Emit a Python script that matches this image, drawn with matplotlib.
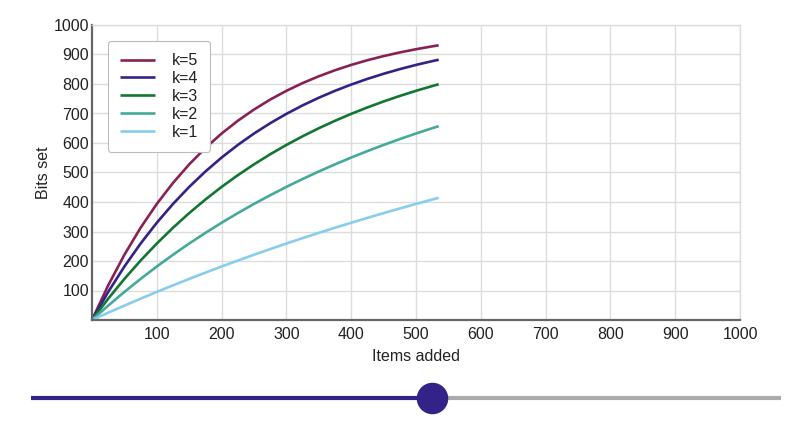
import matplotlib
matplotlib.use("Agg")
import matplotlib.pyplot as plt

plt.rcParams["font.family"] = ["Liberation Sans", "DejaVu Sans"]

# items added (0..535, step 25, then the slider position)
items = [0, 25, 50, 75, 100, 125, 150, 175, 200, 225, 250, 275, 300, 325,
         350, 375, 400, 425, 450, 475, 500, 525, 535]

# bits set in a 1000-bit filter, per number of hash functions k
bits_k1 = [0, 24.7, 48.8, 72.3, 95.2, 117.5, 139.3, 160.5, 181.3, 201.5, 221.2,
           240.4, 259.2, 277.5, 295.3, 312.7, 329.7, 346.2, 362.4, 378.1, 393.5,
           408.4, 414.3]
bits_k2 = [0, 48.8, 95.2, 139.3, 181.3, 221.2, 259.2, 295.3, 329.7, 362.4, 393.5,
           423.0, 451.2, 478.0, 503.4, 527.6, 550.7, 572.6, 593.4, 613.3, 632.1,
           650.1, 657.0]
bits_k3 = [0, 72.3, 139.3, 201.5, 259.2, 312.7, 362.4, 408.4, 451.2, 490.8, 527.6,
           561.8, 593.4, 622.8, 650.1, 675.3, 698.8, 720.6, 740.8, 759.5, 776.9,
           793.0, 799.1]
bits_k4 = [0, 95.2, 181.3, 259.2, 329.7, 393.5, 451.2, 503.4, 550.7, 593.4, 632.1,
           667.1, 698.8, 727.5, 753.4, 776.9, 798.1, 817.3, 834.7, 850.4, 864.7,
           877.5, 882.3]
bits_k5 = [0, 117.5, 221.2, 312.7, 393.5, 464.7, 527.6, 583.1, 632.1, 675.3, 713.5,
           747.2, 776.9, 803.1, 826.2, 846.6, 864.7, 880.6, 894.6, 907.0, 917.9,
           927.6, 931.1]

series = [("k=5", bits_k5, "#882255"),
          ("k=4", bits_k4, "#332288"),
          ("k=3", bits_k3, "#117733"),
          ("k=2", bits_k2, "#44aa99"),
          ("k=1", bits_k1, "#88ccee")]

ticks = [100, 200, 300, 400, 500, 600, 700, 800, 900, 1000]
slider_value = 535
slider_max = 1000

FS = 11.5

fig = plt.figure(figsize=(8.1, 4.28), dpi=100)
ax = fig.add_axes([92 / 810, 108 / 428, 648 / 810, 295 / 428])

for lab, vals, col in series:
    ax.plot(items, vals, color=col, lw=1.9, label=lab, solid_capstyle="butt")

ax.set_xlim(0, 1000)
ax.set_ylim(0, 1000)
ax.set_xticks(ticks)
ax.set_yticks(ticks)
ax.tick_params(length=0, labelsize=FS, colors="#222222")
ax.tick_params(axis="y", pad=2)
ax.tick_params(axis="x", pad=5)
ax.grid(True, color="#dcdcdc", lw=1)
ax.set_axisbelow(True)
for s in ("top", "right"):
    ax.spines[s].set_color("#dcdcdc")
    ax.spines[s].set_linewidth(1)
for s in ("left", "bottom"):
    ax.spines[s].set_color("#666666")
    ax.spines[s].set_linewidth(1.6)
ax.set_xlabel("Items added", fontsize=FS, color="#222222", labelpad=5)
ax.set_ylabel("Bits set", fontsize=FS, color="#222222", labelpad=2)

leg = ax.legend(loc="upper left", bbox_to_anchor=(0.024, 0.945), fontsize=FS,
                handlelength=2.2, handletextpad=1.05, labelspacing=0.18,
                borderpad=0.75, borderaxespad=0, fancybox=True, framealpha=1,
                edgecolor="#bbbbbb")
leg.get_frame().set_linewidth(0.8)
for t in leg.get_texts():
    t.set_color("#222222")

# slider below the chart
sax = fig.add_axes([31 / 810, 20 / 428, 750 / 810, 20 / 428])
sax.set_xlim(0, slider_max)
sax.set_ylim(-1, 1)
sax.axis("off")
sax.plot([0, slider_value], [0, 0], color="#332288", lw=3, solid_capstyle="butt")
sax.plot([slider_value, slider_max], [0, 0], color="#aaaaaa", lw=3,
         solid_capstyle="butt")
sax.scatter([slider_value], [0], s=470, color="#332288", zorder=3, clip_on=False)

fig.savefig("out.png", dpi=100)
